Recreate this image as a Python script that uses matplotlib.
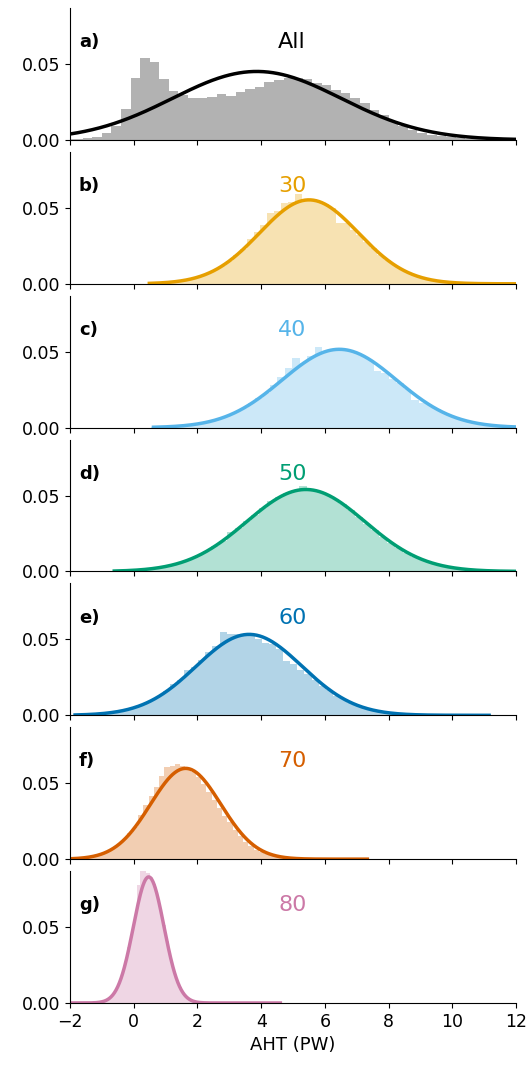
import numpy as np
import matplotlib
matplotlib.use("Agg")
import matplotlib.pyplot as plt

# panel titles / colours
names = ["All", "30", "40", "50", "60", "70", "80"]
tags = ["a)", "b)", "c)", "d)", "e)", "f)", "g)"]
colors = ["#000000", "#E69F00", "#56B4E9", "#009E73", "#0072B2", "#D55E00", "#CC79A7"]

# histogram bins: first edge and bin width (PW)
bin_start = [-2.5, 0.536, 0.549, -0.61, -1.97, -2.01, -2.0]
bin_width = [0.3, 0.215, 0.233, 0.252, 0.222, 0.165, 0.1]

# fraction of samples per bin
h_all = [0.0002, 0.0004, 0.0008, 0.001, 0.002, 0.0044, 0.0094, 0.0204, 0.0406, 0.054,
         0.0513, 0.040, 0.032, 0.0296, 0.0278, 0.0274, 0.0285, 0.030, 0.0289, 0.0316,
         0.0333, 0.035, 0.038, 0.0395, 0.0406, 0.0406, 0.040, 0.0373, 0.0362, 0.0329,
         0.0307, 0.0274, 0.0241, 0.0197, 0.0162, 0.0122, 0.0092, 0.0066, 0.0048, 0.0035,
         0.0026, 0.002, 0.0013, 0.0009, 0.0006, 0.0004, 0.0003, 0.0002, 0.0001, 0.0001]
h_30 = [0.0004, 0.0006, 0.0009, 0.0014, 0.002, 0.0028, 0.0039, 0.0053, 0.0071, 0.0094,
        0.012, 0.0152, 0.0188, 0.0228, 0.0294, 0.0344, 0.0388, 0.0469, 0.0482, 0.0535,
        0.0542, 0.0592, 0.0551, 0.0552, 0.0542, 0.0523, 0.0497, 0.0403, 0.0399, 0.0355,
        0.0322, 0.0278, 0.0235, 0.0191, 0.0158, 0.0125, 0.0098, 0.0075, 0.0056, 0.0041,
        0.003, 0.0021, 0.0015, 0.001, 0.0007, 0.0005, 0.0003, 0.0002, 0.0001, 0.0001]
h_40 = [0.0003, 0.0004, 0.0007, 0.001, 0.0014, 0.0019, 0.0027, 0.0036, 0.0048, 0.0063,
        0.0082, 0.0104, 0.013, 0.016, 0.0193, 0.023, 0.0281, 0.0336, 0.039, 0.046,
        0.0425, 0.0474, 0.0533, 0.0502, 0.0513, 0.0516, 0.051, 0.0496, 0.0474, 0.0446,
        0.0373, 0.0359, 0.0318, 0.0295, 0.0255, 0.0182, 0.016, 0.0149, 0.012, 0.0096,
        0.0075, 0.0058, 0.0044, 0.0032, 0.0024, 0.0017, 0.0012, 0.0008, 0.0006, 0.0004]
h_50 = [0.0004, 0.0006, 0.0008, 0.0012, 0.0017, 0.0025, 0.0034, 0.0047, 0.0062, 0.0082,
        0.0106, 0.0133, 0.0166, 0.0203, 0.0257, 0.0285, 0.033, 0.0374, 0.0417, 0.0465,
        0.0488, 0.0515, 0.0532, 0.0565, 0.0539, 0.0527, 0.0507, 0.0478, 0.0443, 0.0402,
        0.0359, 0.0315, 0.0271, 0.0229, 0.019, 0.0155, 0.0124, 0.0097, 0.0075, 0.0057,
        0.0042, 0.0031, 0.0022, 0.0016, 0.0011, 0.0007, 0.0005, 0.0003, 0.0002, 0.0001]
h_60 = [0.0002, 0.0004, 0.0005, 0.0008, 0.0012, 0.0017, 0.0024, 0.0033, 0.0044, 0.0059,
        0.0078, 0.010, 0.0127, 0.0157, 0.0208, 0.0235, 0.0296, 0.0318, 0.0366, 0.0417,
        0.046, 0.0548, 0.0537, 0.0537, 0.0533, 0.0533, 0.0504, 0.0476, 0.0472, 0.044,
        0.036, 0.034, 0.030, 0.027, 0.0235, 0.0195, 0.0165, 0.0125, 0.0105, 0.0083,
        0.0063, 0.0048, 0.0035, 0.0026, 0.0018, 0.0013, 0.0009, 0.0006, 0.0004, 0.0003]
h_70 = [0.0003, 0.0005, 0.0008, 0.0012, 0.0019, 0.0027, 0.0039, 0.0055, 0.0075, 0.0101,
        0.0133, 0.017, 0.0214, 0.029, 0.0355, 0.0414, 0.0476, 0.0546, 0.0607, 0.0612,
        0.0625, 0.0612, 0.060, 0.0575, 0.054, 0.0498, 0.0445, 0.039, 0.0335, 0.0285,
        0.0245, 0.0195, 0.015, 0.0115, 0.0085, 0.0062, 0.0045, 0.0032, 0.0022, 0.0015,
        0.001, 0.0007, 0.0005, 0.0004, 0.0003, 0.0002, 0.0001, 0.0001, 0.0001, 0.0001]
h_80 = [0.0, 0.0, 0.0, 0.0, 0.0, 0.0001, 0.0001, 0.0002, 0.0003, 0.0006,
        0.0011, 0.0019, 0.0033, 0.0055, 0.0088, 0.0134, 0.0196, 0.0273, 0.0366, 0.0468,
        0.0574, 0.078, 0.088, 0.089, 0.086, 0.083, 0.0785, 0.0711, 0.0616, 0.0511,
        0.0406, 0.0309, 0.0225, 0.0157, 0.0105, 0.0067, 0.0041, 0.0024, 0.0014, 0.0008,
        0.0004, 0.0002, 0.0001, 0.0001, 0.0001, 0.0001, 0.0001, 0.0001, 0.0001, 0.0001]
heights = [h_all, h_30, h_40, h_50, h_60, h_70, h_80]

# normal fit (PW) and the range it is drawn over
fit_mean = [3.86, 5.5, 6.45, 5.4, 3.62, 1.63, 0.47]
fit_std = [2.65, 1.55, 1.80, 1.86, 1.66, 1.10, 0.48]
fit_lo = [-2.6, 0.49, 0.62, -0.61, -1.84, -2.3, -2.3]
fit_hi = [12.6, 12.3, 12.4, 12.1, 11.15, 7.33, 4.6]


def normal_curve(mu, sd, bw, lo, hi):
    x = np.linspace(lo, hi, 400)
    y = bw * np.exp(-0.5 * ((x - mu) / sd) ** 2) / (sd * np.sqrt(2 * np.pi))
    return x, y


fig, axes = plt.subplots(7, 1, figsize=(5.3, 10.67), dpi=100, sharex=True)
fig.subplots_adjust(left=0.132, right=0.974, top=0.9925, bottom=0.06, hspace=0.09)

for i, ax in enumerate(axes):
    h = np.array(heights[i])
    edges = bin_start[i] + bin_width[i] * np.arange(len(h) + 1)
    ax.stairs(h, edges, fill=True, color=colors[i], alpha=0.3, linewidth=0)

    x, y = normal_curve(fit_mean[i], fit_std[i], bin_width[i], fit_lo[i], fit_hi[i])
    ax.plot(x, y, color=colors[i], lw=2.5)

    ax.text(0.02, 0.74, tags[i], transform=ax.transAxes, fontsize=13,
            fontweight="bold", va="center", ha="left")
    ax.text(0.498, 0.74, names[i], transform=ax.transAxes, fontsize=16,
            color=colors[i], va="center", ha="center")

    ax.set_xlim(-2, 12)
    ax.set_ylim(0, 0.087)
    ax.set_yticks([0.0, 0.05])
    ax.set_yticklabels(["0.00", "0.05"])
    ax.spines["top"].set_visible(False)
    ax.spines["right"].set_visible(False)
    ax.tick_params(labelsize=12.5)

axes[-1].set_xticks(np.arange(-2, 13, 2))
axes[-1].set_xlabel("AHT (PW)", fontsize=13)

fig.savefig("out.png")
